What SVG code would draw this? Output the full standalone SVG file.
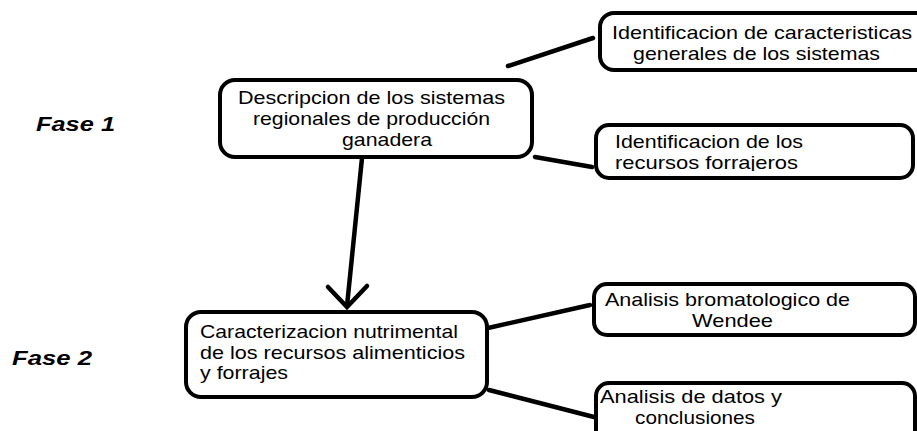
<svg xmlns="http://www.w3.org/2000/svg" width="917" height="431" viewBox="0 0 917 431">
<style>
.box{fill:#fff;stroke:#000;stroke-width:4}
.t{font-family:"Liberation Sans",Arial,sans-serif;font-size:19px;fill:#000}
.f{font-family:"Liberation Sans",Arial,sans-serif;font-size:20px;font-weight:bold;font-style:italic;fill:#000}
.c{stroke:#000;stroke-width:4.5;fill:none;stroke-linecap:round}
</style>
<defs>
<clipPath id="clipRec"><rect x="596" y="125" width="320" height="46"/></clipPath>
</defs>
<rect width="917" height="431" fill="#fff"/>
<g id="fase1"><text class="f" x="36" y="131" textLength="79" lengthAdjust="spacingAndGlyphs">Fase 1</text></g>
<g id="fase2"><text class="f" x="12" y="365" textLength="80" lengthAdjust="spacingAndGlyphs">Fase 2</text></g>
<g id="connectors">
<line class="c" x1="508" y1="66" x2="593" y2="38"/>
<line class="c" x1="535" y1="157" x2="592" y2="167"/>
<line class="c" x1="488" y1="328" x2="590" y2="305"/>
<line class="c" x1="489" y1="390" x2="594" y2="417"/>
<line class="c" x1="362" y1="158" x2="347" y2="306"/>
<polyline class="c" points="328,287 347,307 367,286"/>
</g>
<g id="n-caracteristicas">
<rect class="box" x="600" y="13" width="330" height="57" rx="14"/>
<text class="t" x="612" y="39" textLength="300" lengthAdjust="spacingAndGlyphs">Identificacion de caracteristicas</text>
<text class="t" x="633" y="60" textLength="247" lengthAdjust="spacingAndGlyphs">generales de los sistemas</text>
</g>
<g id="n-descripcion">
<rect class="box" x="220" y="80" width="312" height="77" rx="15"/>
<text class="t" x="238" y="104" textLength="267" lengthAdjust="spacingAndGlyphs">Descripcion de los sistemas</text>
<text class="t" x="253" y="125" textLength="237" lengthAdjust="spacingAndGlyphs">regionales de producción</text>
<text class="t" x="342" y="146" textLength="90" lengthAdjust="spacingAndGlyphs">ganadera</text>
</g>
<g id="n-recursos">
<rect class="box" x="596" y="125" width="317" height="53" rx="13"/>
<g clip-path="url(#clipRec)">
<text class="t" x="615" y="148" textLength="188" lengthAdjust="spacingAndGlyphs">Identificacion de los</text>
<text class="t" x="615" y="169" textLength="183" lengthAdjust="spacingAndGlyphs">recursos forrajeros</text>
</g>
</g>
<g id="n-caracterizacion">
<rect class="box" x="186" y="312" width="301" height="85" rx="15"/>
<text class="t" x="200" y="338" textLength="258" lengthAdjust="spacingAndGlyphs">Caracterizacion nutrimental</text>
<text class="t" x="200" y="359" textLength="265" lengthAdjust="spacingAndGlyphs">de los recursos alimenticios</text>
<text class="t" x="200" y="379" textLength="88" lengthAdjust="spacingAndGlyphs">y forrajes</text>
</g>
<g id="n-bromatologico">
<rect class="box" x="594" y="284" width="321" height="51" rx="13"/>
<text class="t" x="605" y="306" textLength="245" lengthAdjust="spacingAndGlyphs">Analisis bromatologico de</text>
<text class="t" x="692" y="327" textLength="81" lengthAdjust="spacingAndGlyphs">Wendee</text>
</g>
<g id="n-datos">
<rect class="box" x="596" y="383" width="319" height="60" rx="13"/>
<text class="t" x="600" y="403" textLength="182" lengthAdjust="spacingAndGlyphs">Analisis de datos y</text>
<text class="t" x="635" y="424" textLength="120" lengthAdjust="spacingAndGlyphs">conclusiones</text>
</g>
</svg>
